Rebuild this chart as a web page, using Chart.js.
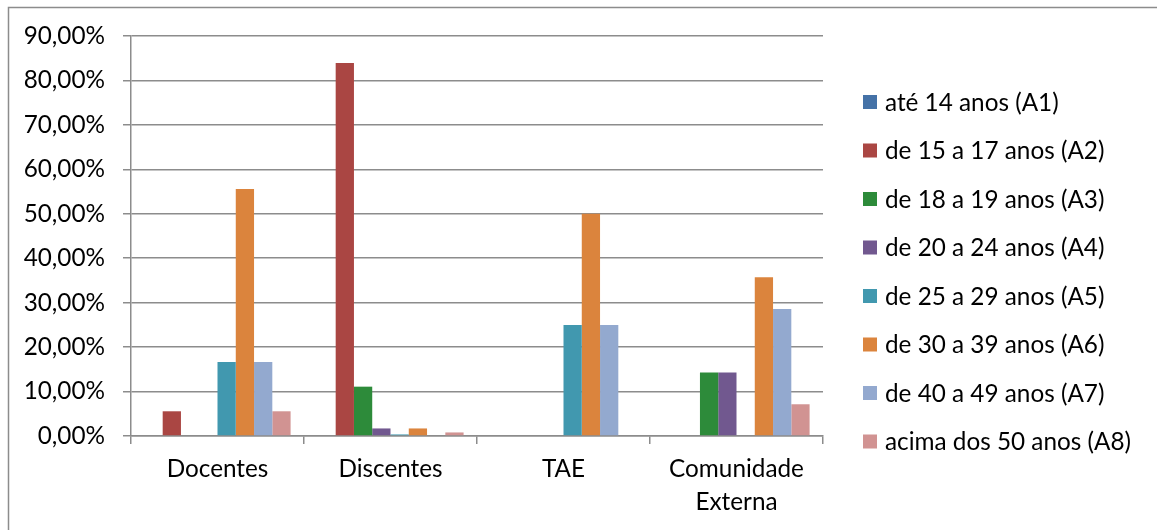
<!DOCTYPE html>
<html>
<head>
<meta charset="utf-8">
<script src="https://cdn.jsdelivr.net/npm/chart.js@4.4.0/dist/chart.umd.min.js"></script>
<style>
  html, body { margin: 0; padding: 0; background: #fff; }
  #wrap { position: relative; width: 1157px; height: 530px; }
</style>
</head>
<body>
<div id="wrap"><canvas id="c" width="1157" height="530"></canvas></div>
<script>
const categories = ['Docentes', 'Discentes', 'TAE', ['Comunidade', 'Externa']];
const seriesNames = [
  'até 14 anos (A1)',
  'de 15 a 17 anos (A2)',
  'de 18 a 19 anos (A3)',
  'de 20 a 24 anos (A4)',
  'de 25 a 29 anos (A5)',
  'de 30 a 39 anos (A6)',
  'de 40 a 49 anos (A7)',
  'acima dos 50 anos (A8)'
];
const A1 = [0, 0, 0, 0];
const A2 = [5.56, 83.9, 0, 0];
const A3 = [0, 11.1, 0, 14.29];
const A4 = [0, 1.7, 0, 14.29];
const A5 = [16.67, 0.35, 25, 0];
const A6 = [55.56, 1.7, 50, 35.71];
const A7 = [16.67, 0, 25, 28.57];
const A8 = [5.56, 0.8, 0, 7.14];
const yTicks = [0, 10, 20, 30, 40, 50, 60, 70, 80, 90];

const seriesValues = [A1, A2, A3, A4, A5, A6, A7, A8];
const colors = ['#4572A7', '#AA4643', '#2D8B3A', '#71588F', '#4198AF', '#DB843D', '#93A9CF', '#D19392'];

const FONT = 'Lato';
const FS = 24.3;
const GRID = '#8c8c8c';

const frame = {
  id: 'frame',
  beforeDraw(chart) {
    const ctx = chart.ctx;
    ctx.save();
    ctx.strokeStyle = GRID;
    ctx.lineWidth = 1.5;
    ctx.beginPath();
    ctx.moveTo(8.5, 530);
    ctx.lineTo(8.5, 7.5);
    ctx.lineTo(1157, 7.5);
    ctx.stroke();
    ctx.restore();
  }
};

const legendPlugin = {
  id: 'customLegend',
  afterDraw(chart) {
    const ctx = chart.ctx;
    ctx.save();
    ctx.font = FS + 'px ' + FONT;
    ctx.textBaseline = 'middle';
    ctx.textAlign = 'left';
    chart.data.datasets.forEach((ds, i) => {
      const cy = 102 + i * 48.5;
      ctx.fillStyle = ds.backgroundColor;
      ctx.fillRect(863, cy - 7, 14, 14);
      ctx.fillStyle = '#000';
      ctx.fillText(ds.label, 885, cy + 1);
    });
    ctx.restore();
  }
};

new Chart(document.getElementById('c'), {
  type: 'bar',
  data: {
    labels: categories,
    datasets: seriesNames.map((n, i) => ({
      label: n,
      data: seriesValues[i],
      backgroundColor: colors[i],
      borderWidth: 0,
      categoryPercentage: 0.845,
      barPercentage: 1.0
    }))
  },
  options: {
    responsive: false,
    animation: false,
    events: [],
    layout: { padding: { left: 0, right: 334, top: 36, bottom: 0 } },
    plugins: { legend: { display: false }, tooltip: { enabled: false } },
    scales: {
      x: {
        grid: {
          offset: true,
          drawOnChartArea: false,
          drawTicks: true,
          tickLength: 8,
          color: GRID,
          lineWidth: 1.5
        },
        border: { display: true, color: GRID, width: 1.5 },
        ticks: {
          color: '#000',
          font: { family: FONT, size: FS, lineHeight: 1.38 },
          padding: 8,
          maxRotation: 0,
          autoSkip: false
        },
        afterFit(scale) { scale.height = 94; }
      },
      y: {
        min: 0,
        max: 90,
        afterBuildTicks(scale) { scale.ticks = yTicks.map(v => ({ value: v })); },
        grid: {
          color: GRID,
          lineWidth: 1.5,
          tickLength: 8,
          drawTicks: true
        },
        border: { display: true, color: GRID, width: 1.5 },
        ticks: {
          color: '#000',
          font: { family: FONT, size: FS },
          padding: 18,
          callback: v => v.toFixed(2).replace('.', ',') + '%'
        },
        afterFit(scale) { scale.width = 131; }
      }
    }
  },
  plugins: [frame, legendPlugin]
});
</script>
</body>
</html>
